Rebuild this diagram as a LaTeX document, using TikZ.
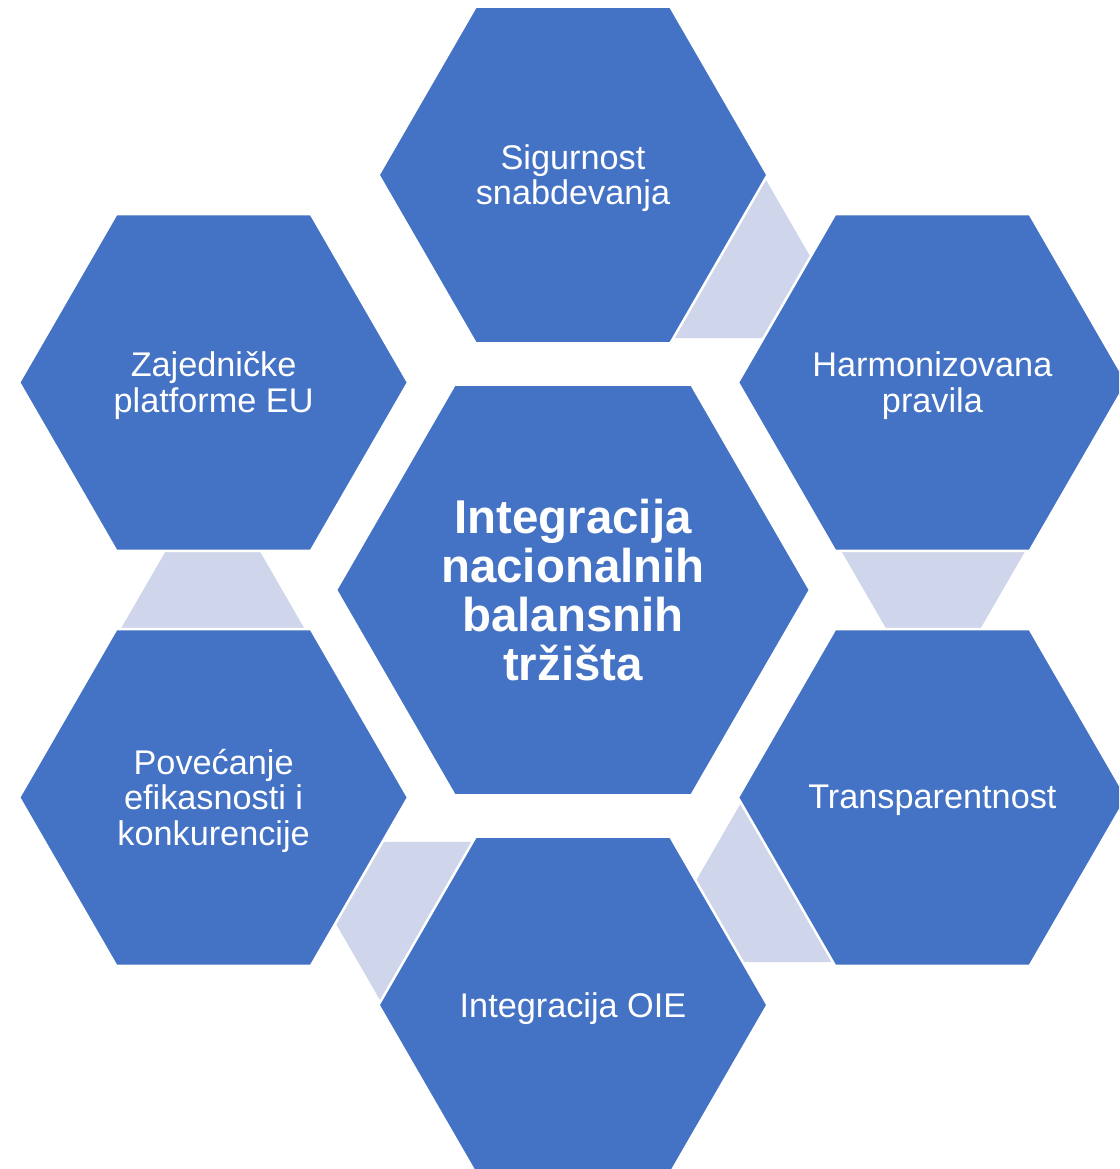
\documentclass[tikz,border=0pt]{standalone}
\usepackage{fontspec}
\setmainfont{Liberation Sans}
\usetikzlibrary{calc}

\definecolor{hexblue}{HTML}{4472C4}
\definecolor{hexlight}{HTML}{CFD5EA}

\tikzset{
  bighex/.style={fill=hexblue, draw=white, line width=1.4pt},
  smallhex/.style={fill=hexlight},
  lbl/.style={text=white, align=center, inner sep=0pt, yshift=-1.8pt, font=\fontsize{19.5}{20.2}\selectfont},
  mainlbl/.style={text=white, align=center, inner sep=0pt, font=\bfseries\fontsize{27}{28}\selectfont}
}

\begin{document}
\begin{tikzpicture}[x=0.02cm, y=0.02cm]
\useasboundingbox (0,0) rectangle (1119,1169);
\clip (0,0) rectangle (1119,1169);

% centres of the hexagons
\coordinate (c0) at (573,579);
\path (c0) ++(90:415) coordinate (c1);
\path (c0) ++(30:415) coordinate (c2);
\path (c0) ++(-30:415) coordinate (c3);
\path (c0) ++(-90:415) coordinate (c4);
\path (c0) ++(-150:415) coordinate (c5);
\path (c0) ++(150:415) coordinate (c6);

% light hexagons in the gaps, behind
\foreach \a in {67, 7, -53, -113, 187}
  \fill[smallhex] (c0) ++(\a:363) ++(0:95) -- ++(120:95) -- ++(180:95) -- ++(240:95) -- ++(300:95) -- ++(0:95) -- cycle;

% big hexagons
\draw[bighex] (c0) ++(0:237) -- ++(120:237) -- ++(180:237) -- ++(240:237) -- ++(300:237) -- ++(0:237) -- cycle;
\foreach \c in {c1, c2, c3, c4, c5, c6}
  \draw[bighex] (\c) ++(0:194.5) -- ++(120:194.5) -- ++(180:194.5) -- ++(240:194.5) -- ++(300:194.5) -- ++(0:194.5) -- cycle;

% labels
\node[mainlbl] (integ) at (c0) {Integracija\\nacionalnih\\balansnih\\tržišta};
\node[lbl] (sig) at (c1) {Sigurnost\\snabdevanja};
\node[lbl] (harm) at (c2) {Harmonizovana\\pravila};
\node[lbl] (trans) at (c3) {Transparentnost};
\node[lbl] (oie) at (c4) {Integracija OIE};
\node[lbl] (pov) at (c5) {Povećanje\\efikasnosti i\\konkurencije};
\node[lbl] (zaj) at (c6) {Zajedničke\\platforme EU};
\end{tikzpicture}
\end{document}
